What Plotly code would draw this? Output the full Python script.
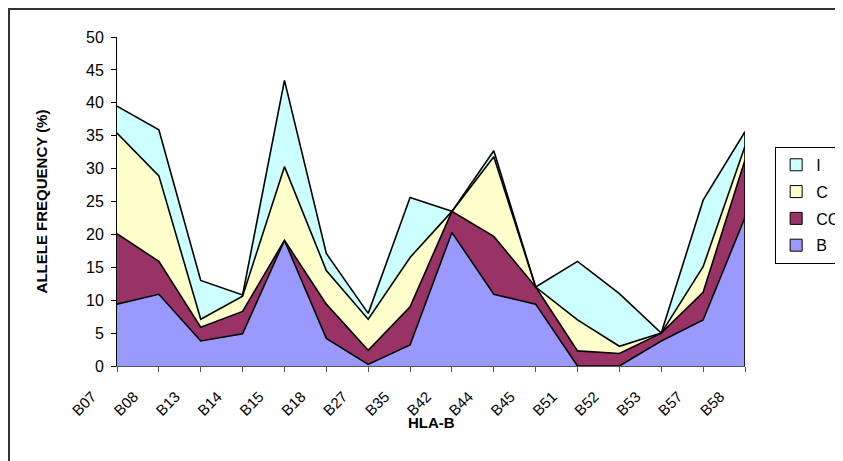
import plotly.graph_objects as go

# HLA-B alleles
alelos = ['B07', 'B08', 'B13', 'B14', 'B15', 'B18', 'B27', 'B35',
          'B42', 'B44', 'B45', 'B51', 'B52', 'B53', 'B57', 'B58']

# allele frequency (%) per group, stacked in this order
frec_B = [9.4, 10.9, 3.8, 4.9, 19.1, 4.2, 0.25, 3.2, 20.3, 10.9, 9.4, 0.0, 0.0, 3.8, 7.0, 22.6]
frec_CC = [10.7, 5.0, 2.1, 3.4, 0.0, 5.2, 2.15, 5.8, 3.2, 8.8, 2.6, 2.3, 1.9, 1.2, 4.2, 8.7]
frec_C = [15.3, 13.0, 1.2, 2.3, 11.2, 5.1, 4.7, 7.5, 0.0, 12.1, 0.0, 4.7, 1.1, 0.0, 3.9, 2.1]
frec_I = [4.1, 7.0, 5.9, 0.2, 13.1, 2.6, 0.9, 9.1, 0.0, 0.9, 0.0, 8.9, 8.0, 0.0, 10.1, 2.2]

series = [('B', frec_B, '#9999FF'),
          ('CC', frec_CC, '#993366'),
          ('C', frec_C, '#FFFFCC'),
          ('I', frec_I, '#CCFFFF')]

FUENTE = 'Liberation Sans, Arial, sans-serif'

fig = go.Figure()

for nombre, valores, color in series:
    fig.add_trace(go.Scatter(
        x=alelos, y=valores, name=nombre, mode='lines',
        stackgroup='uno', fillcolor=color,
        line=dict(color='black', width=1.6),
        showlegend=False
    ))

# legend entries as squares (Excel style)
for nombre, valores, color in reversed(series):
    fig.add_trace(go.Scatter(
        x=[None], y=[None], name=nombre, mode='markers', legendgroup=nombre,
        marker=dict(symbol='square', size=12, color=color,
                    line=dict(color='black', width=1))
    ))

# right edge of the stacked areas
total_final = frec_B[-1] + frec_CC[-1] + frec_C[-1] + frec_I[-1]
fig.add_shape(type='line', x0=alelos[-1], x1=alelos[-1], y0=0, y1=total_final,
              xref='x', yref='y', line=dict(color='black', width=1.6))

# chart frame
fig.add_shape(type='rect', xref='paper', yref='paper',
              x0=-0.172, x1=1.3, y0=-0.5, y1=1.085,
              line=dict(color='#333333', width=2), layer='above')

# x axis title
fig.add_annotation(text='<b>HLA-B</b>', xref='paper', yref='paper',
                   x=0.5, y=-0.173, xanchor='center', yanchor='middle',
                   showarrow=False, font=dict(size=15))

fig.update_layout(
    width=843, height=461,
    margin=dict(l=109, r=106, t=29, b=103, autoexpand=False),
    paper_bgcolor='white', plot_bgcolor='white',
    font=dict(family=FUENTE, size=14, color='black'),
    legend=dict(x=1.048, y=0.666, xanchor='left', yanchor='top',
                bordercolor='black', borderwidth=1, bgcolor='white',
                font=dict(size=16), tracegroupgap=3, itemwidth=30),
    xaxis=dict(
        tickangle=-45, ticks='outside', ticklen=5, tickcolor='#555555',
        ticklabelshift=-25, ticklabelstandoff=10,
        showline=True, linecolor='#555555', linewidth=1,
        showgrid=False, range=[0, 15], tickfont=dict(size=15)
    ),
    yaxis=dict(
        title=dict(text='<b>ALLELE FREQUENCY (%)</b>', font=dict(size=15), standoff=34),
        range=[0, 50], dtick=5, ticks='outside', ticklen=5, tickcolor='black',
        ticklabelstandoff=4,
        showline=True, linecolor='black', linewidth=1,
        showgrid=False, zeroline=False, tickfont=dict(size=16)
    )
)

fig.write_html('out.html')
